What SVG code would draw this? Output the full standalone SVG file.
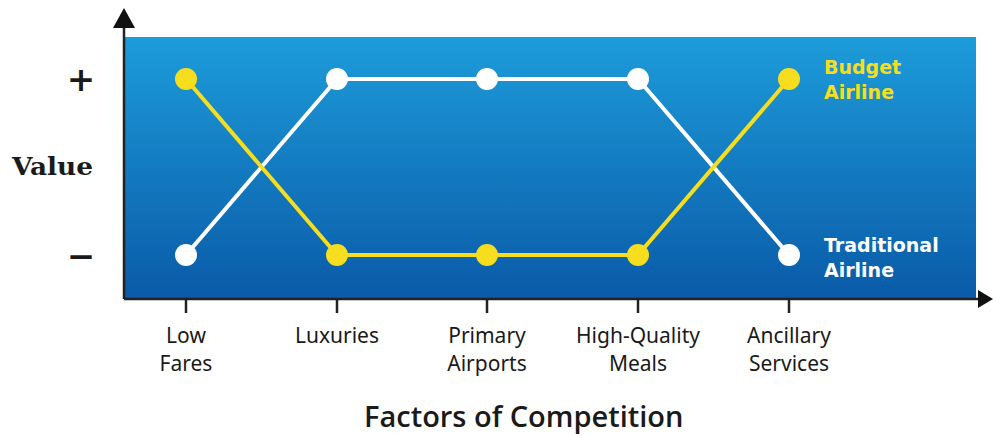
<svg xmlns="http://www.w3.org/2000/svg" width="993" height="436" viewBox="0 0 993 436">
<style>
.lbl{font-family:"Noto Sans","Open Sans",sans-serif;font-size:21px;fill:#1a1a1a;text-anchor:middle}
.leg{font-family:"DejaVu Sans","Liberation Sans",sans-serif;font-weight:bold;font-size:19px}
.ax{stroke:#222;stroke-width:2.5;fill:none}
.yl{stroke:#f6de1e;stroke-width:4;fill:none;stroke-linejoin:round}
.wl{stroke:#ffffff;stroke-width:4;fill:none;stroke-linejoin:round}
.yd{fill:#f6de1e}
.wd{fill:#ffffff}
</style>
<defs>
<linearGradient id="bg" x1="0" y1="0" x2="0" y2="1">
<stop offset="0" stop-color="#1d9cda"/>
<stop offset="1" stop-color="#0a5aa7"/>
</linearGradient>
</defs>
<rect x="0" y="0" width="993" height="436" fill="#ffffff"/>
<rect id="plot" x="125" y="37" width="851" height="262" fill="url(#bg)"/>
<g id="axes">
<line class="ax" x1="124" y1="26" x2="124" y2="299"/>
<polygon points="124,8 113,28 135,28" fill="#111"/>
<line class="ax" x1="124" y1="299" x2="982" y2="299"/>
<polygon points="993,299 978,290 978,308" fill="#111"/>
<line class="ax" x1="186" y1="299" x2="186" y2="313"/>
<line class="ax" x1="337" y1="299" x2="337" y2="313"/>
<line class="ax" x1="487" y1="299" x2="487" y2="313"/>
<line class="ax" x1="638" y1="299" x2="638" y2="313"/>
<line class="ax" x1="789" y1="299" x2="789" y2="313"/>
</g>
<g id="connectors">
<polyline class="wl" points="186,255 337,79 487,79 638,79 789,255"/>
<polyline class="yl" points="186,79 337,255 487,255 638,255 789,79"/>
</g>
<g id="traditional">
<circle class="wd" cx="186" cy="255" r="11"/>
<circle class="wd" cx="337" cy="79" r="11"/>
<circle class="wd" cx="487" cy="79" r="11"/>
<circle class="wd" cx="638" cy="79" r="11"/>
<circle class="wd" cx="789" cy="255" r="11"/>
<text class="leg" x="824" y="252" fill="#ffffff">Traditional</text>
<text class="leg" x="824" y="277" fill="#ffffff">Airline</text>
</g>
<g id="budget">
<circle class="yd" cx="186" cy="79" r="11"/>
<circle class="yd" cx="337" cy="255" r="11"/>
<circle class="yd" cx="487" cy="255" r="11"/>
<circle class="yd" cx="638" cy="255" r="11"/>
<circle class="yd" cx="789" cy="79" r="11"/>
<text class="leg" x="824" y="74" fill="#f6de1e">Budget</text>
<text class="leg" x="824" y="99" fill="#f6de1e">Airline</text>
</g>
<g id="yaxis-labels" font-family="'DejaVu Serif',serif" fill="#1a1a1a" font-weight="bold">
<text x="81" y="91" font-size="34" text-anchor="middle">+</text>
<text x="12" y="175" font-size="25" textLength="81" lengthAdjust="spacingAndGlyphs">Value</text>
<text x="81" y="268" font-size="34" text-anchor="middle">−</text>
</g>
<g id="factors">
<text class="lbl" x="186" y="343">Low</text>
<text class="lbl" x="186" y="371">Fares</text>
<text class="lbl" x="337" y="343">Luxuries</text>
<text class="lbl" x="487" y="343">Primary</text>
<text class="lbl" x="487" y="371">Airports</text>
<text class="lbl" x="638" y="343">High-Quality</text>
<text class="lbl" x="638" y="371">Meals</text>
<text class="lbl" x="789" y="343">Ancillary</text>
<text class="lbl" x="789" y="371">Services</text>
</g>
<text x="364" y="427" font-family="'Open Sans','Noto Sans',sans-serif" font-weight="600" font-size="29" fill="#1a1a1a">Factors of Competition</text>
</svg>
